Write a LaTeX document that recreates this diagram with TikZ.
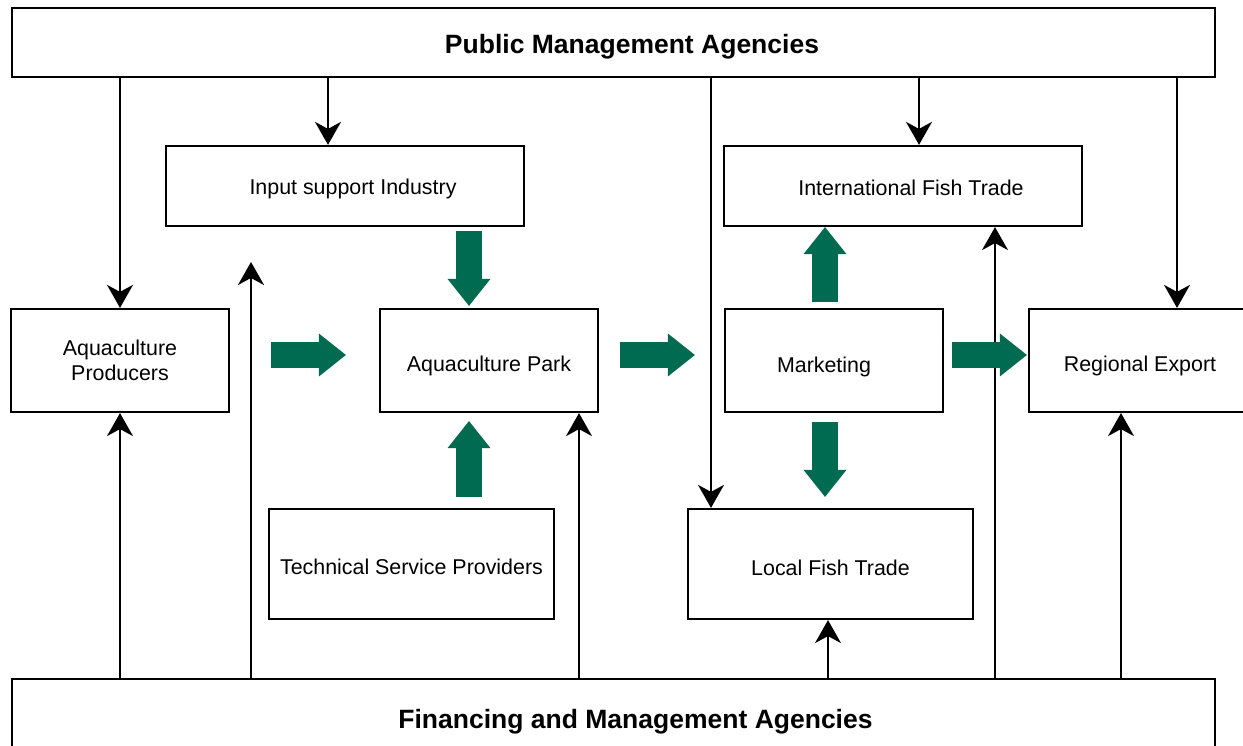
\documentclass[tikz,border=0pt]{standalone}
\usepackage{fontspec}
\setmainfont{Liberation Sans}
\usetikzlibrary{arrows.meta,calc}
\definecolor{fishgreen}{RGB}{0,107,80}
\newcommand{\dn}[2]{\raisebox{-#1}[\height][\depth]{#2}}
\begin{document}
\begin{tikzpicture}[x=1pt,y=1pt,
  box/.style={draw=black,line width=2.2pt,fill=white,inner sep=0pt,align=center,
    font=\fontsize{21.4}{25}\selectfont},
  bigbox/.style={draw=black,line width=2.2pt,fill=white,inner sep=0pt,align=center,
    font=\fontsize{26.5}{30}\selectfont\bfseries},
  link/.style={line width=2pt,-{Stealth[length=23pt,width=26pt,inset=7pt]}},
  garrow/.style={draw=fishgreen,line width=26pt,
    -{Triangle[length=27pt,width=43pt,line width=0pt]}}]
\useasboundingbox (0,0) rectangle (1243,746);
\begin{scope}
\clip (0,0) rectangle (1243,746);
% nodes
\node[bigbox,minimum width=1203pt,minimum height=69pt] (top) at (613.5,703.5) {\dn{4pt}{\hspace*{37pt}Public Management Agencies}};
\node[bigbox,minimum width=1203pt,minimum height=81pt] (bot) at (613.5,26.5) {\dn{2pt}{\hspace*{44pt}Financing and Management Agencies}};
\node[box,minimum width=358pt,minimum height=80pt] (input) at (345,560) {\dn{3pt}{\hspace*{16pt}Input support Industry}};
\node[box,minimum width=358pt,minimum height=80pt] (intl) at (903,560) {\dn{2pt}{\hspace*{16pt}International Fish Trade}};
\node[box,minimum width=218pt,minimum height=103pt] (prod) at (120,385.5) {Aquaculture\\Producers};
\node[box,minimum width=218pt,minimum height=103pt] (park) at (489,385.5) {\dn{5pt}{Aquaculture Park}};
\node[box,minimum width=218pt,minimum height=103pt] (mkt) at (834,385.5) {\dn{6pt}{Marketing\hspace*{20pt}}};
\node[box,minimum width=222pt,minimum height=103pt] (reg) at (1140,385.5) {\dn{5pt}{Regional Export}};
\node[box,minimum width=285pt,minimum height=110pt] (tech) at (411.5,182) {\dn{3pt}{Technical Service Providers}};
\node[box,minimum width=285pt,minimum height=110pt] (local) at (830.5,182) {\dn{4pt}{Local Fish Trade}};
\coordinate (free) at (251,484);
% black connectors from top
\draw[link] (prod.north |- top.south) -- (prod.north);
\draw[link] ([xshift=-17pt]input.north |- top.south) -- ([xshift=-17pt]input.north);
\draw[link] ([xshift=-119.5pt]local.north |- top.south) -- ([xshift=-119.5pt]local.north);
\draw[link] ([xshift=16pt]intl.north |- top.south) -- ([xshift=16pt]intl.north);
\draw[link] ([xshift=37pt]reg.north |- top.south) -- ([xshift=37pt]reg.north);
% black connectors from bottom
\draw[link] (prod.south |- bot.north) -- (prod.south);
\draw[link] (free |- bot.north) -- (free);
\draw[link] ([xshift=90pt]park.south |- bot.north) -- ([xshift=90pt]park.south);
\draw[link] ([xshift=-2.5pt]local.south |- bot.north) -- ([xshift=-2.5pt]local.south);
\draw[link] ([xshift=92pt]intl.south |- bot.north) -- ([xshift=92pt]intl.south);
\draw[link] ([xshift=-19pt]reg.south |- bot.north) -- ([xshift=-19pt]reg.south);
% green arrows
\draw[garrow] ([xshift=124pt,yshift=-4pt]input.south) -- ([xshift=-20pt,yshift=2pt]park.north);
\draw[garrow] ([xshift=41pt,yshift=5.5pt]prod.east) -- ([xshift=-33pt,yshift=5.5pt]park.west);
\draw[garrow] ([xshift=21pt,yshift=5.5pt]park.east) -- ([xshift=-29pt,yshift=5.5pt]mkt.west);
\draw[garrow] ([xshift=8pt,yshift=5.5pt]mkt.east) -- ([xshift=-1pt,yshift=5.5pt]reg.west);
\draw[garrow] ([xshift=57.5pt,yshift=11pt]tech.north) -- ([xshift=-20pt,yshift=-8pt]park.south);
\draw[garrow] ([xshift=-9pt,yshift=6pt]mkt.north) -- ([xshift=-78pt]intl.south);
\draw[garrow] ([xshift=-9pt,yshift=-9pt]mkt.south) -- ([xshift=-5.5pt,yshift=11pt]local.north);
\end{scope}
\end{tikzpicture}
\end{document}
